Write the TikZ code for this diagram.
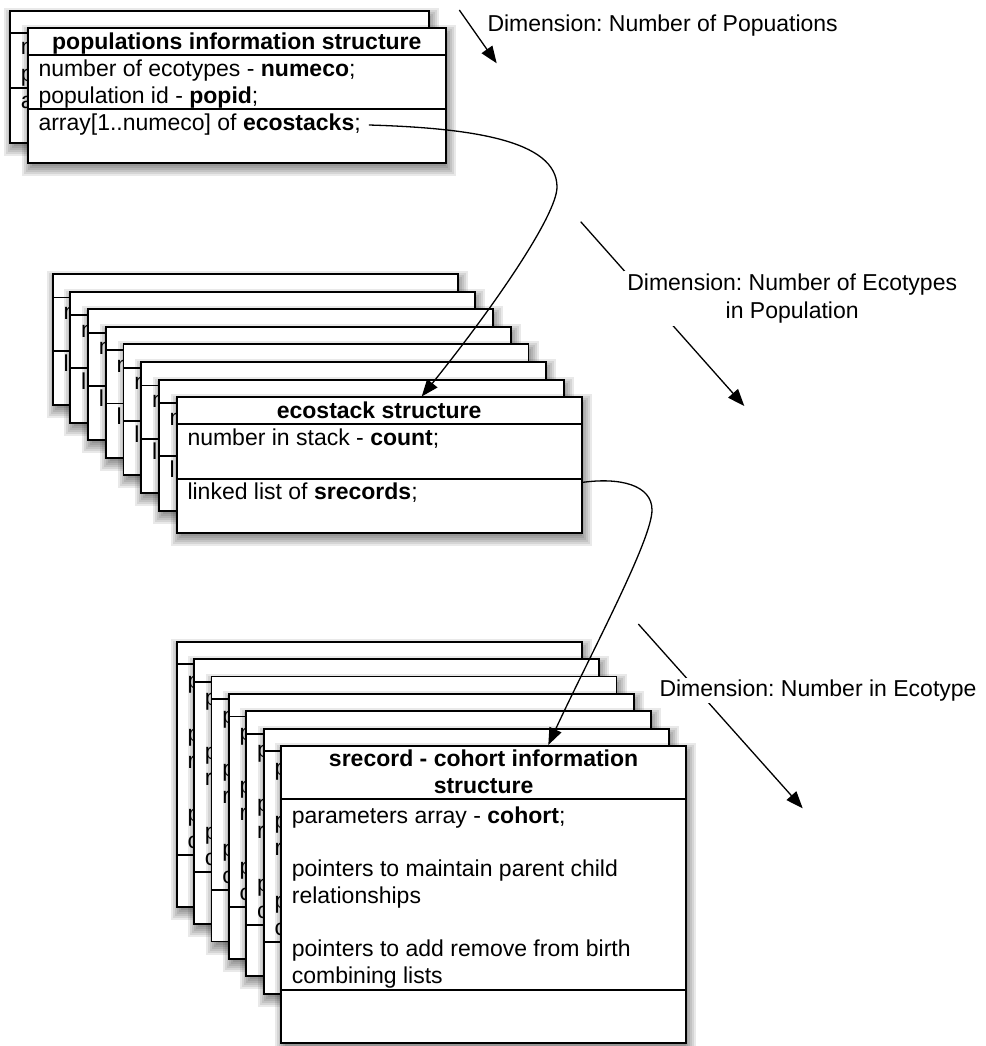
\documentclass[tikz,border=0pt]{standalone}
\usepackage{fontspec}
\setmainfont{Liberation Sans}
\usetikzlibrary{arrows.meta}
\frenchspacing
\newcommand\dfs{\fontsize{23}{26.7}\selectfont}
\newcommand\softshadow[4]{%
  \foreach \s in {0,...,6} {%
    \fill[black, opacity=0.085] (#1+2-8+2*\s, #2+5-8+2*\s) rectangle (#3+2+8-2*\s, #4+5+8-2*\s);
  }%
}
\tikzset{
  box/.style={draw=black, line width=1.9pt, fill=white},
  boxline/.style={draw=black, line width=1.9pt},
  txt/.style={anchor=base west, inner sep=0pt, font=\dfs},
  hdr/.style={anchor=base, inner sep=0pt, font=\dfs\bfseries},
  dimlbl/.style={fill=white, inner sep=2pt, font=\dfs},
  arr/.style={draw=black, line width=1.3pt, -{Triangle[length=17pt,width=13pt]}},
}
\begin{document}
\begin{tikzpicture}[x=1pt,y=-1pt]
\useasboundingbox (0,0) rectangle (985,1046);

% ---------- top stack: populations ----------
\softshadow{10}{11}{429}{142.7}
\draw[box] (10,11) rectangle (429,142.7);
\draw[boxline] (10,33.3) -- (429,33.3);
\draw[boxline] (10,88.3) -- (429,88.3);
\node[txt] (pb1) at (20.6,55) {number of ecotypes - \textbf{numeco};};
\node[txt] (pb2) at (20.6,82) {population id - \textbf{popid};};
\node[txt] (pb3) at (20.6,109) {array[1..numeco] of \textbf{ecostacks};};

\softshadow{27.7}{28.3}{446}{163.3}
\draw[box] (27.7,28.3) rectangle (446,163.3);
\draw[boxline] (27.7,55) -- (446,55);
\draw[boxline] (27.7,109) -- (446,109);
\node[hdr] (popH) at (236.8,49.3) {populations information structure};
\node[txt] (pf1) at (38.3,77) {number of ecotypes - \textbf{numeco};};
\node[txt] (pf2) at (38.3,104) {population id - \textbf{popid};};
\node[txt] (pf3) at (38.3,131) {array[1..numeco] of \textbf{ecostacks};};

% ---------- middle stack: ecostacks ----------
\foreach \i in {0,...,6} {
  \pgfmathsetmacro\L{52.7+17.7*\i}
  \pgfmathsetmacro\T{274+17.6*\i}
  \pgfmathsetmacro\R{\L+405}
  \softshadow{\L}{\T}{\R}{\T+131}
  \draw[box] (\L,\T) rectangle (\R,\T+131);
  \draw[boxline] (\L,\T+23.5) -- (\R,\T+23.5);
  \draw[boxline] (\L,\T+76.7) -- (\R,\T+76.7);
  \node[txt] (eb\i-a) at (\L+10.6,\T+45.5) {number in stack - \textbf{count};};
  \node[txt] (eb\i-b) at (\L+10.6,\T+97.7) {linked list of \textbf{srecords};};
}
\softshadow{176.6}{397.2}{581.6}{532.7}
\draw[box] (176.6,397.2) rectangle (581.6,532.7);
\draw[boxline] (176.6,424.3) -- (581.6,424.3);
\draw[boxline] (176.6,479.3) -- (581.6,479.3);
\node[hdr] (ecoH) at (379.1,418.3) {ecostack structure};
\node[txt] (ef1) at (187.3,445) {number in stack - \textbf{count};};
\node[txt] (ef2) at (187.3,499) {linked list of \textbf{srecords};};

% ---------- bottom stack: srecords ----------
\foreach \i in {0,...,5} {
  \pgfmathsetmacro\L{176.7+17.4*\i}
  \pgfmathsetmacro\T{641.7+17.4*\i}
  \pgfmathsetmacro\R{\L+405}
  \pgfmathsetmacro\H{\T+22.6}
  \softshadow{\L}{\T}{\R}{\T+265}
  \draw[box] (\L,\T) rectangle (\R,\T+265);
  \draw[boxline] (\L,\H) -- (\R,\H);
  \draw[boxline] (\L,\T+213.3) -- (\R,\T+213.3);
  \node[txt] (sb\i-a) at (\L+10.6,\H+24) {parameters array - \textbf{cohort};};
  \node[txt] (sb\i-b) at (\L+10.6,\H+77.4) {pointers to maintain parent child};
  \node[txt] (sb\i-c) at (\L+10.6,\H+104.1) {relationships};
  \node[txt] (sb\i-d) at (\L+10.6,\H+157.5) {pointers to add remove from birth};
  \node[txt] (sb\i-e) at (\L+10.6,\H+184.2) {combining lists};
}
\softshadow{281.1}{746.1}{686.1}{1043}
\draw[box] (281.1,746.1) rectangle (686.1,1043);
\draw[boxline] (281.1,799.3) -- (686.1,799.3);
\draw[boxline] (281.1,990) -- (686.1,990);
\node[hdr] (srH1) at (483.6,766.7) {srecord - cohort information};
\node[hdr] (srH2) at (483.6,793) {structure};
\node[txt] (sf1) at (291.7,823.3) {parameters array - \textbf{cohort};};
\node[txt] (sf2) at (291.7,876.7) {pointers to maintain parent child};
\node[txt] (sf3) at (291.7,903.4) {relationships};
\node[txt] (sf4) at (291.7,956.8) {pointers to add remove from birth};
\node[txt] (sf5) at (291.7,983.5) {combining lists};

% ---------- dimension arrows ----------
\coordinate (d1s) at (459.3,10);
\coordinate (d1e) at (496.7,63.3);
\draw[arr] (d1s) -- (d1e);
\node[dimlbl, anchor=base west] (dim1) at (485.3,31.7) {Dimension: Number of Popuations};

\coordinate (d2s) at (580.7,221.7);
\coordinate (d2e) at (744.3,406);
\draw[arr] (d2s) -- (d2e);
\node[dimlbl, align=center, font=\fontsize{23}{27.6}\selectfont, inner sep=3pt] (dim2) at (792.2,298.7) {Dimension: Number of Ecotypes\\in Population};

\coordinate (d3s) at (638.3,624);
\coordinate (d3e) at (802.7,808.3);
\draw[arr] (d3s) -- (d3e);
\node[dimlbl, anchor=base west] (dim3) at (657.3,696.7) {Dimension: Number in Ecotype};

% ---------- connectors ----------
\coordinate (c1s) at ([xshift=8pt,yshift=6pt]pf3.base east);
\coordinate (c1m) at (557,187);
\coordinate (ecoIn) at (421.7,396.5);
\draw[arr] (c1s) .. controls (470,128) and (557,140) .. (c1m)
                 .. controls (557,215) and (493.7,307) .. (ecoIn);

\coordinate (c2s) at (581.6,482.5);
\coordinate (c2m) at (652,510);
\coordinate (srIn) at (548.3,745);
\draw[arr] (c2s) .. controls (620,477) and (652,485) .. (c2m)
                 .. controls (652,540) and (590,655) .. (srIn);
\end{tikzpicture}
\end{document}
